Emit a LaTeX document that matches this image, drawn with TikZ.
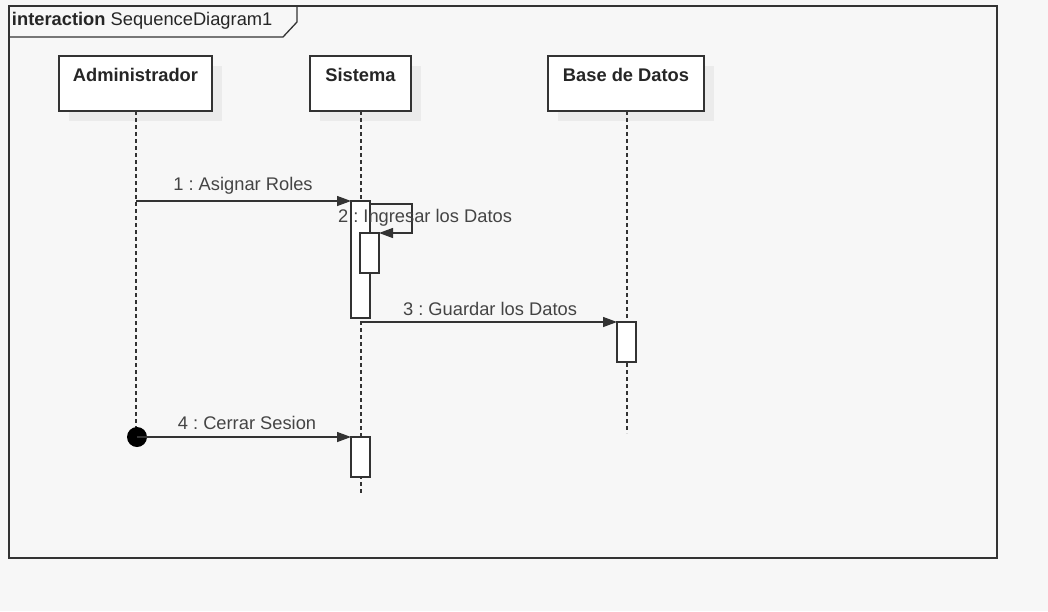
\documentclass[tikz,border=0pt]{standalone}
\usepackage{fontspec}
\setmainfont{Liberation Sans}
\frenchspacing
\usetikzlibrary{arrows.meta}
\definecolor{bg}{HTML}{F7F7F7}
\definecolor{ink}{HTML}{333333}
\definecolor{txt}{HTML}{444444}
\definecolor{shade}{HTML}{EBEBEB}
\tikzset{
  every node/.style={inner sep=0pt, outer sep=0pt},
  lbl/.style={font=\fontsize{18.3}{22}\selectfont, text=txt},
  headtxt/.style={font=\fontsize{18.3}{22}\selectfont\bfseries, text=black!85},
  head/.style={draw=ink, line width=1.3pt, fill=white, rectangle},
  headshadow/.style={fill=shade, rectangle},
  act/.style={draw=ink, line width=1.3pt, fill=white, rectangle, minimum width=19pt},
  life/.style={draw=ink, line width=1.2pt, dash pattern=on 4pt off 3pt},
  msg/.style={draw=ink, line width=1.3pt, -{Triangle[length=14pt,width=10pt]}},
  framebox/.style={draw=ink, line width=1.3pt}
}
\begin{document}
\begin{tikzpicture}[x=1pt,y=-1pt]
  % canvas
  \fill[bg] (0,0) rectangle (1048,611);
  \useasboundingbox (0,0) rectangle (1048,611);

  % interaction frame and its name tab
  \draw[framebox] (9,6) rectangle (997,558);
  \draw[framebox] (9,37) -- (283,37) -- (297,22) -- (297,6);
  \node[anchor=west, font=\fontsize{18.3}{22}\selectfont, text=black!85] (title) at (12,20.5)
    {\textbf{interaction} SequenceDiagram1};

  % lifeline heads (shadow first, then box, then name)
  \fill[headshadow] (69,66) rectangle (222,121);
  \fill[headshadow] (320,66) rectangle (421,121);
  \fill[headshadow] (558,66) rectangle (714,121);
  \node[head, minimum width=153pt, minimum height=55pt] (adm) at (135.5,83.5) {};
  \node[head, minimum width=101pt, minimum height=55pt] (sis) at (360.5,83.5) {};
  \node[head, minimum width=156pt, minimum height=55pt] (bd)  at (626,83.5) {};
  \node[headtxt] (admt) at (135.5,75) {Administrador};
  \node[headtxt] (sist) at (360.5,75) {Sistema};
  \node[headtxt] (bdt)  at (626,75) {Base de Datos};

  % lifelines
  \coordinate (admend) at (136,430);
  \coordinate (sisend) at (361,493);
  \coordinate (bdend)  at (627,433);
  \draw[life] (136,111) -- (admend);
  \draw[life] (361,111) -- (sisend);
  \draw[life] (627,111) -- (bdend);

  % found-message origin
  \node[circle, fill=black, minimum size=20pt] (found) at (137,437) {};

  % activations
  \node[act, anchor=north west, minimum height=117pt] (a1) at (351,201) {};
  \node[act, anchor=north west, minimum height=40pt]  (a2) at (360,233) {};
  \node[act, anchor=north west, minimum height=40pt]  (a3) at (617,322) {};
  \node[act, anchor=north west, minimum height=40pt]  (a4) at (351,437) {};

  % messages
  \coordinate (m1s) at (136,201);
  \draw[msg] (m1s) -- (a1.north west);
  \node[lbl] (l1) at (243,186) {1 : Asignar Roles};

  \draw[msg] ([yshift=-3pt]a1.north east) -- (412,204) -- (412,233) -- (a2.north east);
  \node[lbl] (l2) at (425,218) {2 : Ingresar los Datos};

  \coordinate (m3s) at (361,322);
  \draw[msg] (m3s) -- (a3.north west);
  \node[lbl] (l3) at (490,309) {3 : Guardar los Datos};

  \draw[msg] (found.center) -- (a4.north west);
  \node[lbl] (l4) at (247,423) {4 : Cerrar Sesion};
\end{tikzpicture}
\end{document}
